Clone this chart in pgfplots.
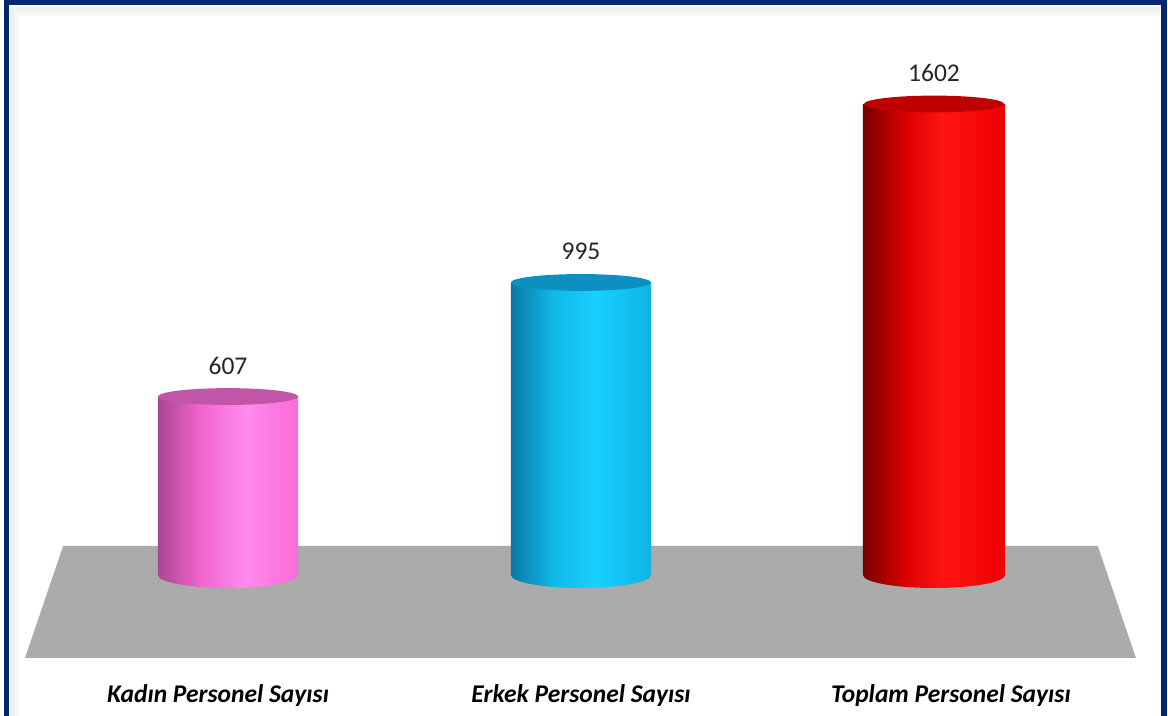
\documentclass[border=0pt]{standalone}
\usepackage{fontspec}
\setmainfont{Carlito}
\usepackage{pgfplots}
\pgfplotsset{compat=1.18}

\definecolor{frameblue}{HTML}{04286E}
\definecolor{floorgray}{HTML}{ABABAB}
\definecolor{pinktop}{HTML}{C255A8}
\definecolor{bluetop}{HTML}{0C90C2}
\definecolor{redtop}{HTML}{BE0000}

% left-to-right shading of the cylinder bodies (path is fitted to 25bp..75bp)
\pgfdeclarehorizontalshading{pinkcyl}{100bp}{color(0bp)=(rgb,255:red,170;green,70;blue,145);
  color(25bp)=(rgb,255:red,170;green,70;blue,145);
  color(40bp)=(rgb,255:red,240;green,100;blue,205); color(56bp)=(rgb,255:red,255;green,138;blue,240);
  color(75bp)=(rgb,255:red,250;green,108;blue,215); color(100bp)=(rgb,255:red,250;green,108;blue,215)}
\pgfdeclarehorizontalshading{bluecyl}{100bp}{color(0bp)=(rgb,255:red,10;green,120;blue,165);
  color(25bp)=(rgb,255:red,10;green,120;blue,165);
  color(40bp)=(rgb,255:red,16;green,185;blue,230); color(55bp)=(rgb,255:red,24;green,208;blue,255);
  color(75bp)=(rgb,255:red,14;green,180;blue,228); color(100bp)=(rgb,255:red,14;green,180;blue,228)}
\pgfdeclarehorizontalshading{redcyl}{100bp}{color(0bp)=(rgb,255:red,120;green,0;blue,0);
  color(25bp)=(rgb,255:red,120;green,0;blue,0);
  color(40bp)=(rgb,255:red,220;green,0;blue,0); color(53bp)=(rgb,255:red,255;green,20;blue,20);
  color(75bp)=(rgb,255:red,240;green,0;blue,0); color(100bp)=(rgb,255:red,240;green,0;blue,0)}

% bottom and top ellipses of the cylinders
\pgfdeclareplotmark{botpink}{\pgfpathellipse{\pgfpointorigin}{\pgfqpoint{35bp}{0pt}}{\pgfqpoint{0pt}{6.5bp}}\pgfshadepath{pinkcyl}{0}\pgfusepath{discard}}
\pgfdeclareplotmark{botblue}{\pgfpathellipse{\pgfpointorigin}{\pgfqpoint{35bp}{0pt}}{\pgfqpoint{0pt}{6.5bp}}\pgfshadepath{bluecyl}{0}\pgfusepath{discard}}
\pgfdeclareplotmark{botred}{\pgfpathellipse{\pgfpointorigin}{\pgfqpoint{35.5bp}{0pt}}{\pgfqpoint{0pt}{6.5bp}}\pgfshadepath{redcyl}{0}\pgfusepath{discard}}
\pgfdeclareplotmark{cyltop}{\pgfpathellipse{\pgfpointorigin}{\pgfqpoint{35bp}{0pt}}{\pgfqpoint{0pt}{4.2bp}}\pgfusepathqfill}

\begin{document}
\begin{tikzpicture}
\useasboundingbox (0,0) rectangle (584bp,358bp);
\clip (0,0) rectangle (584bp,358bp);
% inner shadow and frame
\draw[gray!12, line width=3bp] (6.5bp,-5bp) -- (6.5bp,353bp) -- (580bp,353bp);
\draw[gray!6, line width=2bp] (8.5bp,-5bp) -- (8.5bp,351bp) -- (580bp,351bp);
\draw[frameblue, line width=2.6bp] (3.3bp,-10bp) -- (3.3bp,357bp) -- (582bp,357bp) -- (582bp,-10bp);

\begin{axis}[
  anchor=origin, at={(114bp,70.5bp)},
  x=176.5bp, y=0.147bp,
  xmin=-0.6, xmax=2.6,
  ymin=-410, ymax=1700,
  clip=false,
  axis line style={draw=none},
  tick style={draw=none},
  ytick=\empty,
  xtick={-0.028,1,2.048},
  xticklabels={Kadın Personel Sayısı, Erkek Personel Sayısı, Toplam Personel Sayısı},
  xticklabel style={anchor=center, font=\fontsize{12.8}{14}\selectfont\bfseries\itshape},
  /pgf/number format/1000 sep={},
  /pgf/number format/assume math mode=true,
  nodes near coords style={anchor=center, yshift=15.5bp, font=\fontsize{12.8}{14}\selectfont, text=black!85},
]
% floor
\addplot[fill=floorgray, draw=none] coordinates {(-0.575,-282) (2.572,-282) (2.464,99) (-0.467,99)} -- cycle;

% Kadın
\addplot[only marks, mark=botpink] coordinates {(0,0)};
\addplot[ybar, bar width=0.397, bar shift=0pt, draw=none, shade, shading=pinkcyl] coordinates {(0,607)};
\addplot[only marks, mark=cyltop, mark options={fill=pinktop, draw=none}, nodes near coords] coordinates {(0,607)};

% Erkek
\addplot[only marks, mark=botblue] coordinates {(1,0)};
\addplot[ybar, bar width=0.397, bar shift=0pt, draw=none, shade, shading=bluecyl] coordinates {(1,995)};
\addplot[only marks, mark=cyltop, mark options={fill=bluetop, draw=none}, nodes near coords] coordinates {(1,995)};

% Toplam
\addplot[only marks, mark=botred] coordinates {(2,0)};
\addplot[ybar, bar width=0.403, bar shift=0pt, draw=none, shade, shading=redcyl] coordinates {(2,1602)};
\addplot[only marks, mark=cyltop, mark options={fill=redtop, draw=none}, nodes near coords] coordinates {(2,1602)};
\end{axis}
\end{tikzpicture}
\end{document}
